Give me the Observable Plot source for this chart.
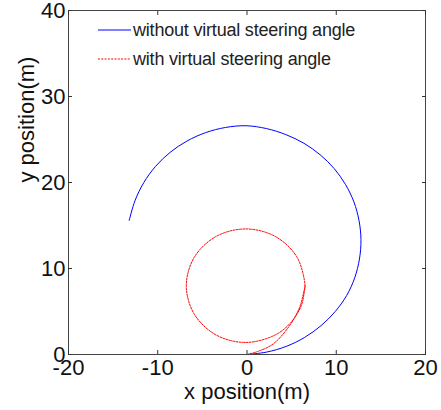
<!DOCTYPE html>
<html>
<head>
<meta charset="utf-8">
<script src="https://cdn.jsdelivr.net/npm/d3@7"></script>
<script src="https://cdn.jsdelivr.net/npm/@observablehq/plot@0.6"></script>
<style>
  html, body { margin: 0; padding: 0; background: #fff; }
  #chart { position: relative; width: 441px; height: 410px; }
</style>
</head>
<body>
<div id="chart"></div>
<script>
// Tick values
const xTicks = [-20, -10, 0, 10, 20];
const yTicks = [0, 10, 20, 30, 40];

// Series names and colours
const seriesNames = ["without virtual steering angle", "with virtual steering angle"];
const seriesColors = ["#0000ff", "#ff0000"];

// Trajectory without virtual steering angle (blue, solid)
const blueX = [0, 2.2, 4.41, 6.46, 8.29, 9.87, 11.16, 12.07, 12.6, 12.77, 12.55, 11.98, 11.03, 9.76, 8.19, 6.38, 4.35, 2.18, -0.1, -2.4, -4.63, -6.73, -8.62, -10.25, -11.57, -12.55, -13.2];
const blueY = [0, 0.28, 0.95, 1.99, 3.35, 4.98, 6.85, 8.92, 11.11, 13.35, 15.58, 17.74, 19.78, 21.63, 23.23, 24.56, 25.57, 26.27, 26.6, 26.4, 25.8, 24.82, 23.5, 21.87, 19.98, 17.88, 15.6];

// Trajectory with virtual steering angle (red, dashed)
const redX = [0, 1.2, 2.95, 4.8, 5.9, 6.4, 6.5, 5.61, 3.18, -0.15, -3.48, -5.91, -6.8, -5.91, -3.48, -0.15, 3.18, 4.94, 6.1, 6.5];
const redY = [0, 0.35, 1.24, 3.4, 5.5, 7.45, 8.0, 11.3, 13.72, 14.6, 13.72, 11.3, 8.0, 4.7, 2.28, 1.4, 2.28, 3.76, 5.74, 8.0];

const blue = blueX.map((x, i) => ({x, y: blueY[i]}));
const red = redX.map((x, i) => ({x, y: redY[i]}));

const font = "Arial, 'Liberation Sans', Helvetica, sans-serif";
const fmt = d => String(d);

const chart = Plot.plot({
  width: 441,
  height: 410,
  marginTop: 10,
  marginRight: 16,
  marginBottom: 56,
  marginLeft: 68,
  x: {domain: [-20, 20]},
  y: {domain: [0, 40]},
  style: {fontFamily: font, background: "#fff", color: "#111", overflow: "visible"},
  marks: [
    Plot.line(blue, {x: "x", y: "y", stroke: seriesColors[0], strokeWidth: 1, curve: "catmull-rom"}),
    Plot.line(red, {x: "x", y: "y", stroke: seriesColors[1], strokeWidth: 1, strokeDasharray: "2,1.3", curve: "catmull-rom"}),
    Plot.frame({stroke: "#444", strokeWidth: 1}),
    Plot.axisX(xTicks, {anchor: "bottom", tickSize: -4, tickPadding: 9, tickFormat: fmt, label: null, fontSize: 22, stroke: "#333", fill: "#111"}),
    Plot.axisX(xTicks, {anchor: "top", tickSize: -4, tickFormat: () => "", label: null, stroke: "#333"}),
    Plot.axisY(yTicks, {anchor: "left", tickSize: -4, tickPadding: 7, tickFormat: fmt, label: null, fontSize: 22, stroke: "#333", fill: "#111"}),
    Plot.axisY(yTicks, {anchor: "right", tickSize: -4, tickFormat: () => "", label: null, stroke: "#333"}),
    Plot.text(["x position(m)"], {frameAnchor: "bottom", lineAnchor: "middle", dy: 37, fontSize: 22, fill: "#111"}),
    Plot.text(["y position(m)"], {frameAnchor: "left", lineAnchor: "middle", dx: -42, rotate: -90, fontSize: 22, fill: "#111"})
  ]
});

// Legend inside the plot area (top-left)
const svg = d3.select(chart);
const leg = svg.append("g")
  .attr("font-family", font)
  .attr("font-size", 18)
  .attr("text-anchor", "start");
const legRows = [30, 59];
seriesNames.forEach((name, i) => {
  leg.append("line")
    .attr("x1", 98).attr("x2", 131)
    .attr("y1", legRows[i]).attr("y2", legRows[i])
    .attr("stroke", seriesColors[i])
    .attr("stroke-width", 1)
    .attr("stroke-dasharray", i === 1 ? "2,1.3" : null);
  leg.append("text")
    .attr("x", 133).attr("y", legRows[i] + 6)
    .attr("fill", "#222")
    .attr("letter-spacing", "-0.2px")
    .text(name);
});

document.getElementById("chart").appendChild(chart);
</script>
</body>
</html>
